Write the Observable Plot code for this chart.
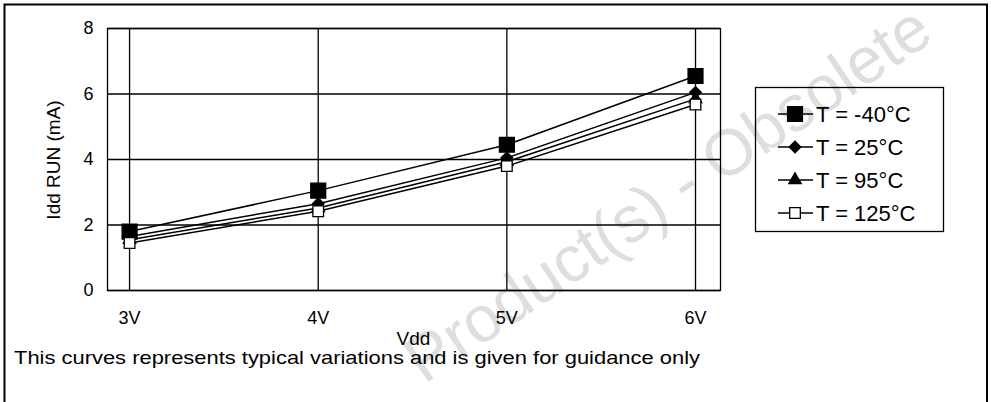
<!DOCTYPE html>
<html><head><meta charset="utf-8">
<script src="https://cdn.jsdelivr.net/npm/d3@7"></script>
<script src="https://cdn.jsdelivr.net/npm/@observablehq/plot@0.6"></script>
<style>body{margin:0;background:#fff} svg{display:block}</style>
</head><body><div id="chart"></div>
<script>
const vdd = [3, 4, 5, 6];
const vddLabels = ["3V", "4V", "5V", "6V"];
const yTicks = [0, 2, 4, 6, 8];
const seriesNames = ["T = -40°C", "T = 25°C", "T = 95°C", "T = 125°C"];
const tMinus40 = [1.80, 3.05, 4.45, 6.55];
const t25 = [1.65, 2.65, 4.05, 6.05];
const t95 = [1.55, 2.52, 3.93, 5.85];
const t125 = [1.45, 2.42, 3.80, 5.68];
const xTitle = "Vdd";
const yTitle = "Idd RUN (mA)";
const footer = "This curves represents typical variations and is given for guidance only";
const watermark = "Product(s) - Obsolete";

const seriesValues = [tMinus40, t25, t95, t125];
const symbolStyles = [
  {symbol: "square", r: 8.4, fill: "black"},
  {symbol: "diamond2", r: 5.2, fill: "black"},
  {symbol: "triangle", r: 4.6, fill: "black"},
  {symbol: "square", r: 6.0, fill: "white"}
];
const rows = seriesNames.map((name, i) => vdd.map((v, j) => ({series: name, vdd: v, idd: seriesValues[i][j]})));

const font = "'Liberation Sans', Arial, Helvetica, sans-serif";
const W = 991, H = 402;
const marks = [
  Plot.ruleY(yTicks, {stroke: "black", strokeWidth: 1.3}),
  Plot.ruleX(vdd, {stroke: "black", strokeWidth: 1.3}),
  Plot.frame({stroke: "black", strokeWidth: 1.3}),
  Plot.axisY({ticks: yTicks, tickSize: 0, tickPadding: 14, label: null, fontSize: 18}),
  Plot.axisX({ticks: vdd, tickFormat: (d) => vddLabels[vdd.indexOf(d)], tickSize: 0, tickPadding: 21, label: null, fontSize: 18})
];
rows.forEach(r => marks.push(Plot.line(r, {x: "vdd", y: "idd", stroke: "black", strokeWidth: 1.5})));
rows.forEach((r, i) => marks.push(Plot.dot(r, {x: "vdd", y: "idd", symbol: () => symbolStyles[i].symbol, r: symbolStyles[i].r, fill: symbolStyles[i].fill, stroke: "black", strokeWidth: 1.3})));

const chart = Plot.plot({
  width: W, height: H,
  marginLeft: 107, marginRight: 271, marginTop: 28, marginBottom: 112,
  style: {fontFamily: font, fontSize: "18px", background: "white", color: "black", overflow: "visible"},
  x: {type: "linear", domain: [2.883, 6.1325]},
  y: {domain: [0, 8]},
  symbol: {type: "identity"},
  marks
});

const svg = d3.select(chart);
function txt(sel) { return sel.attr("font-family", font).attr("fill", "black"); }
// watermark (behind everything)
svg.insert("text", ":first-child")
  .attr("transform", "translate(680,212) rotate(-34)")
  .attr("text-anchor", "middle")
  .attr("font-family", font).attr("font-size", 65)
  .attr("fill", "#dedede")
  .text(watermark);
// outer border (bottom edge outside the picture)
svg.append("path").attr("d", "M4.5,410V4.5H987V410").attr("fill", "none").attr("stroke", "black").attr("stroke-width", 2);
// axis titles
txt(svg.append("text")).attr("x", 413.5).attr("y", 345).attr("text-anchor", "middle")
  .attr("font-size", 19).text(xTitle);
txt(svg.append("text")).attr("transform", "translate(60,160) rotate(-90)").attr("text-anchor", "middle")
  .attr("font-size", 19).text(yTitle);
// footer
txt(svg.append("text")).attr("x", 14).attr("y", 364).attr("text-anchor", "start").attr("font-size", 19)
  .attr("textLength", 686).attr("lengthAdjust", "spacingAndGlyphs").text(footer);
// legend (transparent box: the watermark shows through, as in the reference)
const lg = svg.append("g");
lg.append("rect").attr("x", 755.5).attr("y", 87.5).attr("width", 188).attr("height", 144)
  .attr("fill", "none").attr("stroke", "black").attr("stroke-width", 1.3);
const symMap = {square: d3.symbolSquare, diamond2: d3.symbolDiamond2, triangle: d3.symbolTriangle};
seriesNames.forEach((name, i) => {
  const cy = 114 + i * 33;
  lg.append("line").attr("x1", 778).attr("x2", 813).attr("y1", cy).attr("y2", cy).attr("stroke", "black").attr("stroke-width", 1.5);
  lg.append("path").attr("transform", `translate(795,${cy})`)
    .attr("d", d3.symbol(symMap[symbolStyles[i].symbol], Math.PI * symbolStyles[i].r ** 2)())
    .attr("fill", symbolStyles[i].fill).attr("stroke", "black").attr("stroke-width", 1.3);
  txt(lg.append("text")).attr("x", 816).attr("y", cy).attr("dy", "0.36em").attr("text-anchor", "start")
    .attr("font-size", 22).text(name);
});
document.getElementById("chart").appendChild(chart);
</script>
</body></html>
